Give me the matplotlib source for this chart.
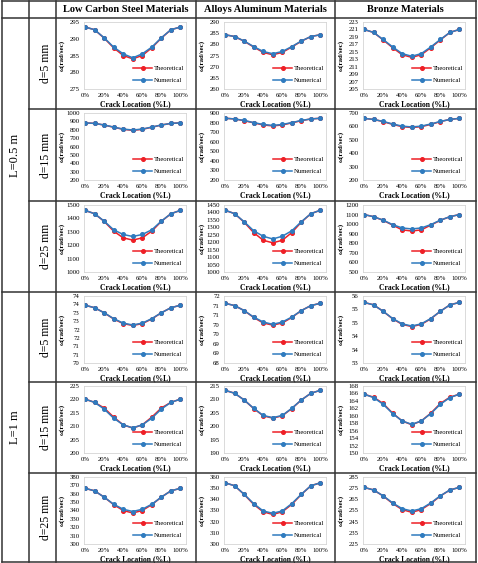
import numpy as np
import matplotlib
matplotlib.use('Agg')
import matplotlib.pyplot as plt
from matplotlib.lines import Line2D
from matplotlib.ticker import FuncFormatter, FixedLocator

plt.rcParams['font.family'] = ['Liberation Serif', 'DejaVu Serif']

W, H = 478, 563

crack = [0, 10, 20, 30, 40, 50, 60, 70, 80, 90, 100]
xtick_vals = [0, 20, 40, 60, 80, 100]
xtick_labels = ['0%', '20%', '40%', '60%', '80%', '100%']

materials = ['Low Carbon Steel Materials', 'Alloys Aluminum Materials', 'Bronze Materials']
beam_lengths = ['L=0.5 m', 'L=1 m']
depths = ['d=5 mm', 'd=15 mm', 'd=25 mm']

# rows: (L=0.5, d=5), (0.5, 15), (0.5, 25), (1, 5), (1, 15), (1, 25)
steel_num = [
    [293.5, 292.7, 290.3, 287.5, 285.5, 284.3, 285.5, 287.5, 290.3, 292.7, 293.5],
    [882, 876, 857, 832, 808, 797, 808, 832, 857, 876, 882],
    [1460, 1435, 1380, 1315, 1280, 1265, 1280, 1315, 1380, 1435, 1460],
    [73.45, 73.3, 73.0, 72.65, 72.38, 72.27, 72.38, 72.65, 73.0, 73.3, 73.45],
    [220.1, 218.9, 216.4, 213.0, 210.5, 209.4, 210.5, 213.0, 216.4, 218.9, 220.1],
    [366.5, 363.5, 356, 347.5, 341.5, 338.8, 341.5, 347.5, 356, 363.5, 366.5],
]
steel_theo = [
    [293.5, 292.7, 290.2, 287.3, 285.0, 284.0, 285.0, 287.3, 290.2, 292.7, 293.5],
    [882, 876, 856, 830, 805, 793, 805, 830, 856, 876, 882],
    [1460, 1435, 1378, 1305, 1255, 1238, 1255, 1305, 1378, 1435, 1460],
    [73.45, 73.3, 73.0, 72.63, 72.35, 72.24, 72.35, 72.63, 73.0, 73.3, 73.45],
    [220.1, 218.9, 216.8, 213.4, 210.5, 209.3, 210.5, 213.4, 216.8, 218.9, 220.1],
    [366.5, 363.5, 356, 347, 340, 337, 340, 347, 356, 363.5, 366.5],
]
alloy_num = [
    [284.3, 283.5, 281.5, 279.0, 276.8, 275.8, 276.8, 279.0, 281.5, 283.5, 284.3],
    [845, 838, 822, 800, 780, 770, 780, 800, 822, 838, 845],
    [1415, 1392, 1338, 1277, 1240, 1222, 1240, 1277, 1338, 1392, 1415],
    [71.12, 71.0, 70.74, 70.4, 70.14, 70.02, 70.14, 70.4, 70.74, 71.0, 71.12],
    [213.4, 212.3, 209.8, 206.7, 204.0, 203.2, 204.0, 206.7, 209.8, 212.3, 213.4],
    [354.8, 352.2, 344.6, 336.2, 329.6, 327.5, 329.6, 336.2, 344.6, 352.2, 354.8],
]
alloy_theo = [
    [284.3, 283.5, 281.4, 278.8, 276.4, 275.3, 276.4, 278.8, 281.4, 283.5, 284.3],
    [845, 838, 820, 797, 775, 765, 775, 797, 820, 838, 845],
    [1415, 1392, 1335, 1265, 1213, 1196, 1213, 1265, 1335, 1392, 1415],
    [71.12, 71.0, 70.74, 70.38, 70.09, 69.98, 70.09, 70.38, 70.74, 71.0, 71.12],
    [213.4, 212.3, 209.8, 206.6, 203.9, 203.0, 203.9, 206.6, 209.8, 212.3, 213.4],
    [354.8, 352.2, 344.4, 335.5, 328.8, 326.5, 328.8, 335.5, 344.4, 352.2, 354.8],
]
bronze_num = [
    [221.0, 220.2, 218.3, 216.3, 214.5, 213.8, 214.5, 216.3, 218.3, 220.2, 221.0],
    [660, 652, 637, 618, 602, 596, 602, 618, 637, 652, 660],
    [1100, 1078, 1042, 995, 960, 950, 960, 995, 1042, 1078, 1100],
    [55.26, 55.17, 54.93, 54.66, 54.46, 54.38, 54.46, 54.66, 54.93, 55.17, 55.26],
    [165.8, 164.9, 163.1, 160.6, 158.6, 157.7, 158.6, 160.6, 163.1, 164.9, 165.8],
    [275.7, 273.4, 268.2, 261.8, 256.6, 254.6, 256.6, 261.8, 268.2, 273.4, 275.7],
]
bronze_theo = [
    [221.0, 220.2, 218.2, 216.1, 214.2, 213.5, 214.2, 216.1, 218.2, 220.2, 221.0],
    [660, 652, 636, 615, 598, 592, 598, 615, 636, 652, 660],
    [1100, 1078, 1040, 990, 940, 928, 940, 990, 1040, 1078, 1100],
    [55.26, 55.17, 54.93, 54.65, 54.44, 54.36, 54.44, 54.65, 54.93, 55.17, 55.26],
    [165.8, 165.0, 163.3, 160.7, 158.6, 157.6, 158.6, 160.7, 163.3, 165.0, 165.8],
    [275.7, 273.4, 268.0, 261.3, 255.8, 253.4, 255.8, 261.3, 268.0, 273.4, 275.7],
]

# y axis (min, max, major step) for every row
steel_yaxis = [(275, 295, 5), (200, 1000, 100), (1000, 1500, 100), (70, 74, 0.5), (200, 225, 5), (300, 380, 10)]
alloy_yaxis = [(260, 290, 5), (200, 900, 100), (1000, 1450, 50), (68, 71.5, 0.5), (190, 215, 5), (300, 360, 10)]
bronze_yaxis = [(205, 223, 2), (200, 700, 100), (500, 1200, 100), (53, 55.5, 0.5), (150, 168, 2), (225, 285, 10)]

series = [(steel_num, steel_theo, steel_yaxis),
          (alloy_num, alloy_theo, alloy_yaxis),
          (bronze_num, bronze_theo, bronze_yaxis)]

RED = '#ee1f26'
BLUE = '#2f7bbf'
GRID = '#333333'

row_tops = [18, 109, 201, 292, 382, 473]
col_lefts = [56, 196, 335]

fig = plt.figure(figsize=(W / 100, H / 100), dpi=100)


def fx(x):
    return x / W


def fy(y):
    return 1 - y / H


def hline(y, x0, x1):
    fig.add_artist(Line2D([fx(x0), fx(x1)], [fy(y), fy(y)], transform=fig.transFigure,
                          color=GRID, lw=1.1))


def vline(x, y0, y1):
    fig.add_artist(Line2D([fx(x), fx(x)], [fy(y0), fy(y1)], transform=fig.transFigure,
                          color=GRID, lw=1.1))


# excel style 0-decimal labels (70.5 -> 71)
yfmt = FuncFormatter(lambda v, p: str(int(np.floor(v + 0.5 + 1e-9))))

for r, ry in enumerate(row_tops):
    for c, cx in enumerate(col_lefts):
        num, theo, yax = series[c]
        ax = fig.add_axes([fx(cx + 28), fy(ry + 71), 102 / W, 67 / H])
        l1, = ax.plot(crack, theo[r], color=RED, lw=1.1, marker='o', ms=2.6, label='Theoretical')
        l2, = ax.plot(crack, num[r], color=BLUE, lw=1.1, marker='o', ms=2.6, label='Numerical')
        lo, hi, step = yax[r]
        ax.set_ylim(lo, hi)
        ax.yaxis.set_major_locator(FixedLocator(np.arange(lo, hi + step / 2, step)))
        ax.yaxis.set_major_formatter(yfmt)
        ax.set_xlim(-1.05, 105.8)
        ax.set_xticks(xtick_vals)
        ax.set_xticklabels(xtick_labels)
        ax.tick_params(length=0, labelsize=4.9, pad=3)
        for s in ax.spines.values():
            s.set_color('#d4d4d4')
            s.set_linewidth(0.6)
        ax.set_xlabel('Crack Location (%L)', fontsize=5.5, fontweight='bold', labelpad=1.5)
        ax.set_ylabel('ω(rad/sec)', fontsize=5, fontweight='bold')
        ax.yaxis.set_label_coords(-0.19, 0.5)
        ax.legend(handles=[l1, l2], loc='lower right', bbox_to_anchor=(1.0, 0.07),
                  frameon=False, fontsize=4.8, handlelength=2.9, handletextpad=0.3,
                  labelspacing=0.95, borderpad=0.2, borderaxespad=0)

# table grid
for x in [2, 29, 56, 196, 335, 476]:
    vline(x, 1, 562)
for y in [1, 18, 292, 562]:
    hline(y, 2, 476)
for y in [109, 201, 382, 473]:
    hline(y, 29, 476)

# header and row labels
for c, cx in enumerate(col_lefts):
    right = col_lefts[c + 1] if c < 2 else 476
    fig.text(fx((cx + right) / 2), fy(10), materials[c], ha='center', va='center',
             fontsize=7.5, fontweight='bold')

for r, ry in enumerate(row_tops):
    bottom = row_tops[r + 1] if r < 5 else 562
    fig.text(fx(46), fy((ry + bottom) / 2), depths[r % 3], rotation=90,
             ha='center', va='center', fontsize=8.5)

fig.text(fx(15), fy((18 + 292) / 2), beam_lengths[0], rotation=90, ha='center', va='center', fontsize=9)
fig.text(fx(15), fy((292 + 562) / 2), beam_lengths[1], rotation=90, ha='center', va='center', fontsize=9)

fig.savefig('out.png', dpi=100)
